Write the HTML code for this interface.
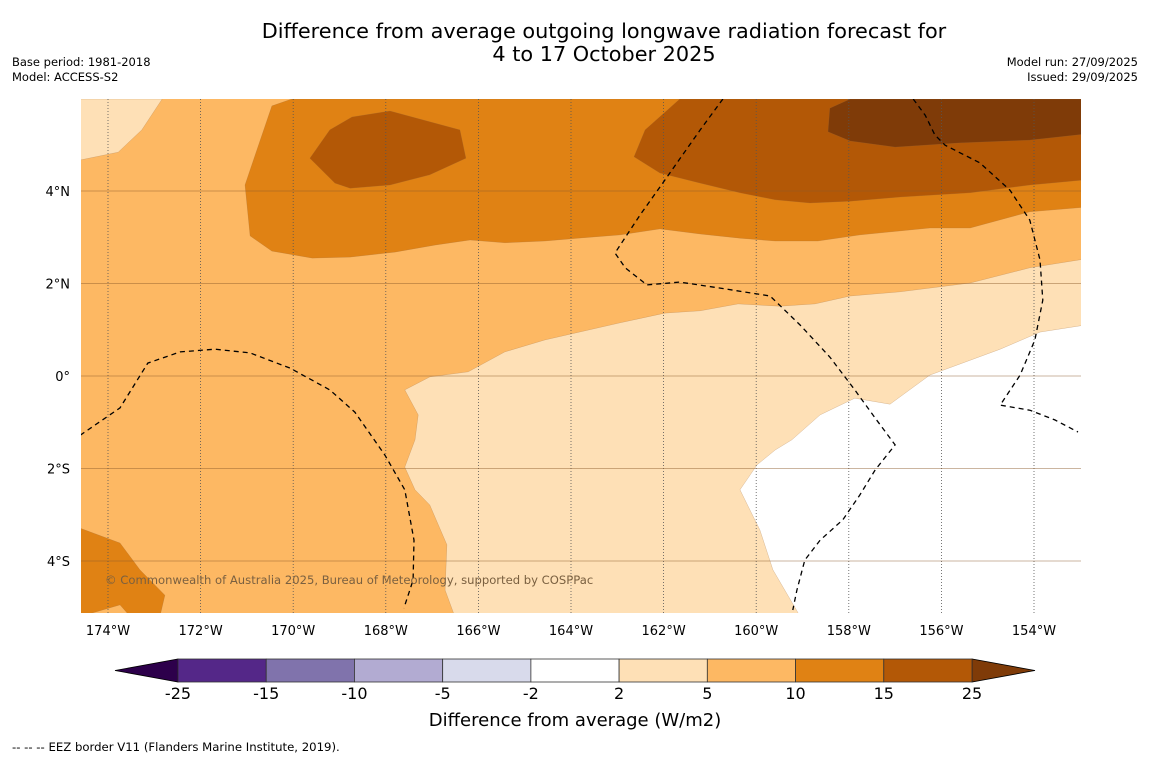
<!DOCTYPE html>
<html><head><meta charset="utf-8"><style>
body{margin:0;background:#fff;width:1150px;height:758px;overflow:hidden;font-family:"DejaVu Sans","Liberation Sans",sans-serif;}
svg{display:block}
</style></head><body>
<svg id="c" width="1150" height="758" xmlns="http://www.w3.org/2000/svg">
<text x="604" y="38" font-size="20.8" text-anchor="middle">Difference from average outgoing longwave radiation forecast for</text>
<text x="604" y="61" font-size="20.8" text-anchor="middle">4 to 17 October 2025</text>
<text x="12" y="66" font-size="11.5">Base period: 1981-2018</text>
<text x="12" y="81" font-size="11.5">Model: ACCESS-S2</text>
<text x="1138" y="66" font-size="11.5" text-anchor="end">Model run: 27/09/2025</text>
<text x="1138" y="81" font-size="11.5" text-anchor="end">Issued: 29/09/2025</text>
<defs><clipPath id="mapclip"><rect x="81" y="99" width="1000" height="514"/></clipPath></defs>
<g id="map" clip-path="url(#mapclip)"></g>
<g id="grid"></g>
<g id="eez" clip-path="url(#mapclip)"></g>
<text x="105" y="584" font-size="11.6" fill="#7a6040">© Commonwealth of Australia 2025, Bureau of Meteorology, supported by COSPPac</text>
<g id="ticks"></g>
<g id="cbar"></g>
<text x="575" y="726" font-size="18" text-anchor="middle">Difference from average (W/m2)</text>
<text x="12" y="751" font-size="11.7">--  --  -- EEZ border V11 (Flanders Marine Institute, 2019).</text>
</svg>
<script>
const lonTicks=[-174,-172,-170,-168,-166,-164,-162,-160,-158,-156,-154];
const latTicks=[4,2,0,-2,-4];
const lonTickLabels=["174°W","172°W","170°W","168°W","166°W","164°W","162°W","160°W","158°W","156°W","154°W"];
const latTickLabels=["4°N","2°N","0°","2°S","4°S"];
const cbLevels=[-25,-15,-10,-5,-2,2,5,10,15,25];
const cbColors=["#542788","#8073ac","#b2abd2","#d8daeb","#ffffff","#fee0b6","#fdb863","#e08214","#b35806"];
const cbLow="#2d004b", cbHigh="#7f3b08";
const regLightNW=[[-174.6,5.99],[-172.83,5.99],[-173.27,5.32],[-173.78,4.84],[-174.6,4.67]];
const regLight=[[-167.59,-0.3],[-167.05,-0.02],[-166.22,0.09],[-165.43,0.52],[-164.56,0.78],[-162.94,1.15],[-161.97,1.36],[-161.21,1.41],[-160.39,1.56],[-159.49,1.51],[-158.73,1.56],[-157.97,1.73],[-156.89,1.82],[-155.38,2.01],[-154.09,2.34],[-152.9,2.53],[-152.9,-5.2],[-166.51,-5.2],[-166.72,-4.63],[-166.68,-3.65],[-167.05,-2.79],[-167.37,-2.46],[-167.59,-1.97],[-167.37,-1.38],[-167.3,-0.84]];
const regWhite=[[-160.35,-2.46],[-159.98,-1.92],[-159.59,-1.6],[-159.23,-1.38],[-158.62,-0.84],[-157.87,-0.48],[-157.11,-0.61],[-156.25,0.02],[-154.73,0.58],[-153.87,0.95],[-152.9,1.1],[-152.9,-5.2],[-159.05,-5.2],[-159.64,-4.19],[-159.92,-3.33],[-160.03,-3.11]];
const regMid=[[-170.46,5.84],[-170.03,5.99],[-152.9,5.99],[-152.9,3.65],[-154.09,3.55],[-155.38,3.2],[-156.25,3.2],[-157.76,3.05],[-158.67,2.92],[-159.59,2.92],[-160.35,2.98],[-161.21,3.07],[-162.08,3.18],[-162.94,3.05],[-163.85,2.98],[-164.56,2.92],[-165.43,2.88],[-166.18,2.94],[-166.94,2.83],[-167.8,2.68],[-168.77,2.57],[-169.59,2.55],[-170.46,2.7],[-170.93,3.03],[-171.04,4.13],[-170.82,4.78]];
const regMidSW=[[-174.6,-3.29],[-173.74,-3.61],[-173.31,-4.19],[-172.77,-4.74],[-172.88,-5.2],[-173.52,-5.2],[-173.74,-4.95],[-174.6,-5.2]];
const regDark1=[[-169.64,4.71],[-169.21,5.32],[-168.73,5.6],[-167.91,5.73],[-166.4,5.32],[-166.27,4.71],[-167.05,4.35],[-167.91,4.13],[-168.77,4.06],[-169.1,4.17]];
const regDark2=[[-162.64,4.74],[-162.4,5.32],[-161.65,5.99],[-152.9,5.99],[-152.9,4.24],[-154.09,4.13],[-155.38,3.96],[-156.89,3.87],[-157.97,3.78],[-158.84,3.74],[-159.59,3.81],[-160.35,3.96],[-161.21,4.17],[-162.08,4.39]];
const regDarkest=[[-158.41,5.79],[-157.97,5.99],[-152.9,5.99],[-152.9,5.23],[-154.09,5.1],[-155.6,5.04],[-157.0,4.95],[-157.97,5.08],[-158.45,5.28]];
const regions=[["#fee0b6",regLightNW],["#fee0b6",regLight],["#ffffff",regWhite],["#e08214",regMid],["#e08214",regMidSW],["#b35806",regDark1],["#b35806",regDark2],["#7f3b08",regDarkest]];
const eez1=[[-174.6,-1.28],[-173.74,-0.69],[-173.14,0.28],[-172.44,0.52],[-171.69,0.58],[-170.93,0.5],[-170.07,0.17],[-169.21,-0.3],[-168.67,-0.78],[-168.02,-1.71],[-167.59,-2.46],[-167.39,-3.55],[-167.41,-4.41],[-167.61,-5.02]];
const eez2=[[-160.72,5.99],[-161.21,5.32],[-161.97,4.24],[-162.51,3.48],[-163.05,2.66],[-162.83,2.34],[-162.36,1.97],[-161.65,2.03],[-160.78,1.9],[-159.7,1.73],[-159.05,1.1],[-158.41,0.41],[-157.87,-0.3],[-157.43,-0.91],[-157.0,-1.49],[-157.43,-2.03],[-157.76,-2.57],[-158.13,-3.11],[-158.62,-3.55],[-158.95,-3.98],[-159.12,-4.63],[-159.21,-5.06]];
const eez3=[[-156.61,5.99],[-156.35,5.64],[-156.14,5.21],[-155.92,4.99],[-155.17,4.61],[-154.52,4.02],[-154.09,3.37],[-153.87,2.51],[-153.81,1.64],[-153.98,0.78],[-154.3,0.02],[-154.73,-0.63],[-154.09,-0.74],[-153.55,-0.95],[-153.05,-1.21]];
const eezLines=[eez1,eez2,eez3];

const NS="http://www.w3.org/2000/svg";
const X0=108,XPD=46.3,Y0=376,YPD=46.25;
function xs(lon){return X0+(lon+174)*XPD;}
function ys(lat){return Y0-lat*YPD;}
function pts(a){return a.map(p=>xs(p[0]).toFixed(1)+","+ys(p[1]).toFixed(1)).join(" ");}
function mk(tag,attrs,parent){const e=document.createElementNS(NS,tag);for(const k in attrs)e.setAttribute(k,attrs[k]);parent.appendChild(e);return e;}
const map=document.getElementById('map');
const bg=mk('rect',{x:81,y:99,width:1000,height:514,fill:'#fdb863'},map);


regions.forEach((r,i)=>{
  const p=mk('polygon',{points:pts(r[1]),fill:r[0],stroke:'#9a6a3a','stroke-width':0.4,'stroke-opacity':0.5},map);
  
  
});
const grid=document.getElementById('grid');
lonTicks.forEach((l,i)=>{
  const ln=mk('line',{x1:xs(l),x2:xs(l),y1:99,y2:613,stroke:'#555','stroke-width':0.8,'stroke-dasharray':'1,2'},grid);
  
  
});
latTicks.forEach((l,i)=>{
  const ln=mk('line',{x1:81,x2:1081,y1:ys(l),y2:ys(l),stroke:'#8b5a2b','stroke-opacity':0.6,'stroke-width':0.8},grid);
  
  
});
const eez=document.getElementById('eez');
eezLines.forEach((l,i)=>{
  const p=mk('polyline',{points:pts(l),fill:'none',stroke:'#000','stroke-width':1.3,'stroke-dasharray':'5,4'},eez);
  
  
});
const ticks=document.getElementById('ticks');
lonTicks.forEach((l,i)=>{
  const t=mk('text',{x:xs(l),y:635,'font-size':13,'text-anchor':'middle'},ticks);
  t.textContent=lonTickLabels[i];
  
  
});
latTicks.forEach((l,i)=>{
  const t=mk('text',{x:70,y:ys(l)+5,'font-size':13,'text-anchor':'end'},ticks);
  t.textContent=latTickLabels[i];
  
  
});
const cb=document.getElementById('cbar');
const CB0=178,CB1=972,CBT=659,CBH=23;
const segW=(CB1-CB0)/cbColors.length;
const lt=mk('polygon',{points:`${CB0},${CBT} ${CB0},${CBT+CBH} 115,${CBT+CBH/2}`,fill:cbLow,stroke:'#000','stroke-width':0.8},cb);


const rt=mk('polygon',{points:`${CB1},${CBT} ${CB1},${CBT+CBH} 1035,${CBT+CBH/2}`,fill:cbHigh,stroke:'#000','stroke-width':0.8},cb);


cbColors.forEach((c,i)=>{
  const r=mk('rect',{x:CB0+i*segW,y:CBT,width:segW,height:CBH,fill:c,stroke:'#333','stroke-width':0.8},cb);
  
  
});
cbLevels.forEach((v,i)=>{
  const t=mk('text',{x:CB0+i*segW,y:699,'font-size':16,'text-anchor':'middle'},cb);
  t.textContent=String(v);
  
  
});
</script>
</body></html>
